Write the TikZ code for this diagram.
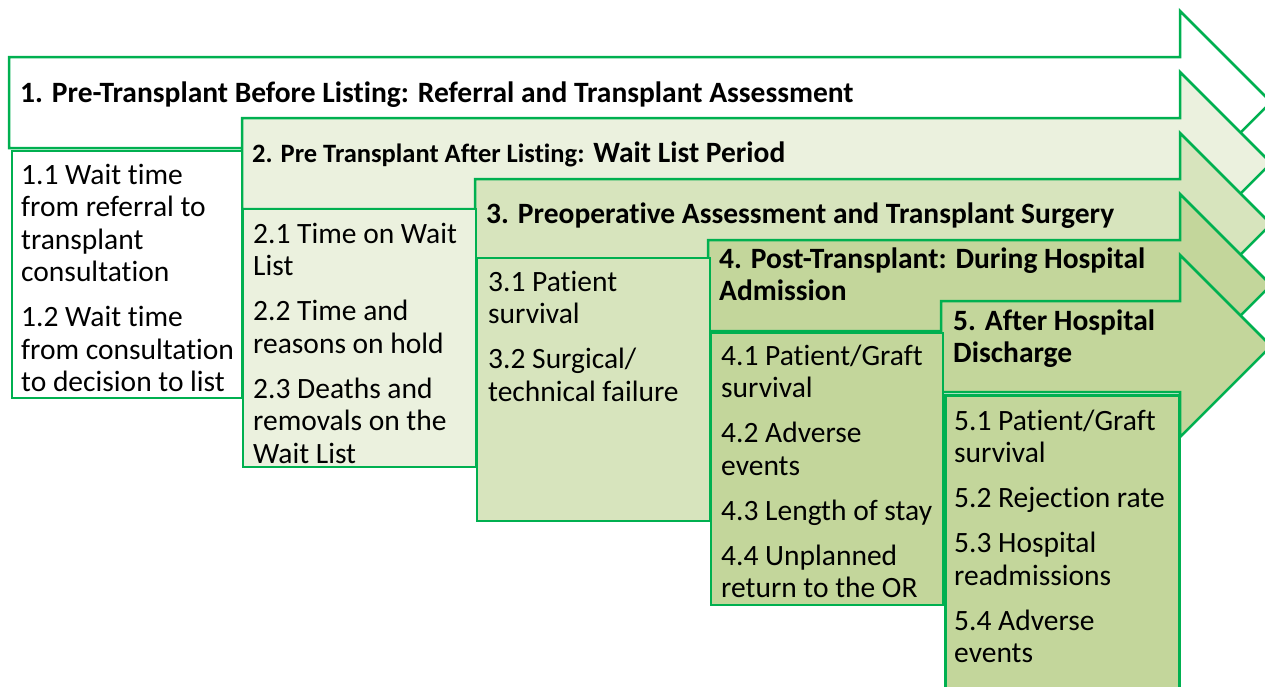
\documentclass[tikz,border=0pt]{standalone}
\usepackage{fontspec}
\setmainfont[Ligatures=NoCommon]{Carlito}
\definecolor{stageline}{HTML}{00B050}
\definecolor{stagefillA}{HTML}{EBF1DE}
\definecolor{stagefillB}{HTML}{D7E4BD}
\definecolor{stagefillC}{HTML}{C3D69B}

\begin{document}
\begin{tikzpicture}[x=1pt,y=-1pt,line join=miter,
    stage arrow/.style={draw=stageline,line width=2.5pt},
    item box/.style={draw=stageline,line width=2.5pt},
    head text/.style={anchor=base west,inner sep=0pt,font=\fontsize{29.5}{32.5}\selectfont\bfseries},
    item text/.style={anchor=base west,inner sep=0pt,font=\fontsize{29.5}{32.5}\selectfont}]
    \useasboundingbox (0,0) rectangle (1265,686);
    \clip (0,0) rectangle (1265,686);

    % stage arrows, back to front
    \draw[stage arrow,fill=white] (9,57) -- (1180,57) -- (1180,11) -- (1271,102) -- (1180,193) -- (1180,148) -- (9,148) -- cycle;
    \draw[stage arrow,fill=stagefillA] (242,118) -- (1180,118) -- (1180,72) -- (1271,163) -- (1180,254) -- (1180,209) -- (242,209) -- cycle;
    \draw[stage arrow,fill=stagefillB] (475,179) -- (1180,179) -- (1180,133) -- (1271,224) -- (1180,315) -- (1180,270) -- (475,270) -- cycle;
    \draw[stage arrow,fill=stagefillC] (708,240) -- (1180,240) -- (1180,194) -- (1271,285) -- (1180,376) -- (1180,331) -- (708,331) -- cycle;
    \draw[stage arrow,fill=stagefillC] (941,301) -- (1180,301) -- (1180,255) -- (1271,346) -- (1180,437) -- (1180,392) -- (941,392) -- cycle;

    % measure boxes
    \draw[item box,fill=white] (12,151) rectangle (242,398);
    \draw[item box,fill=stagefillA] (243,209) rectangle (476,467);
    \draw[item box,fill=stagefillB] (477,258) rectangle (710,521);
    \draw[item box,fill=stagefillC] (711,333) rectangle (943,605);
    \draw[item box,fill=stagefillC,line width=3pt] (945,395) rectangle (1179,700);

    % stage titles
    \node[head text] (h1) at (20,102) {1. Pre-Transplant Before Listing: Referral and Transplant Assessment};
    \node[head text] (h2) at (252,162) {{\fontsize{26.5}{30}\selectfont 2. Pre Transplant After Listing:} Wait List Period};
    \node[head text] (h3) at (486,223) {3. Preoperative Assessment and Transplant Surgery};
    \node[head text] (h4) at (719,268) {\begin{tabular}[t]{@{}l@{}}4. Post-Transplant: During Hospital\\Admission\end{tabular}};
    \node[head text] (h5) at (953,330) {\begin{tabular}[t]{@{}l@{}}5. After Hospital\\Discharge\end{tabular}};

    % measures
    \node[item text] (i1) at (21,184) {\begin{tabular}[t]{@{}l@{}}1.1 Wait time\\from referral to\\transplant\\consultation\\[12.5pt]1.2 Wait time\\from consultation\\to decision to list\end{tabular}};
    \node[item text] (i2) at (253,243) {\begin{tabular}[t]{@{}l@{}}2.1 Time on Wait\\List\\[12.5pt]2.2 Time and\\reasons on hold\\[12.5pt]2.3 Deaths and\\removals on the\\Wait List\end{tabular}};
    \node[item text] (i3) at (488,291) {\begin{tabular}[t]{@{}l@{}}3.1 Patient\\survival\\[12.5pt]3.2 Surgical/\\technical failure\end{tabular}};
    \node[item text] (i4) at (721,365) {\begin{tabular}[t]{@{}l@{}}4.1 Patient/Graft\\survival\\[12.5pt]4.2 Adverse\\events\\[12.5pt]4.3 Length of stay\\[12.5pt]4.4 Unplanned\\return to the OR\end{tabular}};
    \node[item text] (i5) at (954,430) {\begin{tabular}[t]{@{}l@{}}5.1 Patient/Graft\\survival\\[12.5pt]5.2 Rejection rate\\[12.5pt]5.3 Hospital\\readmissions\\[12.5pt]5.4 Adverse\\events\end{tabular}};
\end{tikzpicture}
\end{document}
